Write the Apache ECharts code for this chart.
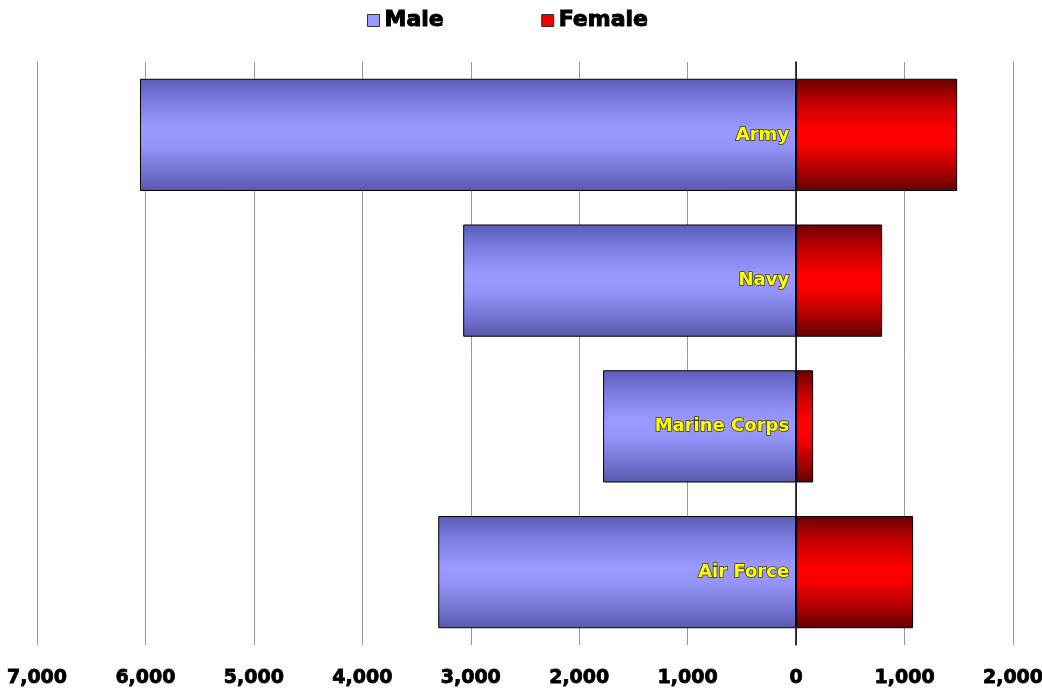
<!DOCTYPE html>
<html>
<head>
<meta charset="utf-8">
<script src="https://cdn.jsdelivr.net/npm/echarts@6/dist/echarts.min.js"></script>
<style>html,body{margin:0;padding:0;background:#fff}#c{width:1042px;height:694px}</style>
</head>
<body>
<div id="c"></div>
<script>
const categories = ['Army', 'Navy', 'Marine Corps', 'Air Force'];
const maleValues = [6050, 3070, 1780, 3300];
const femaleValues = [1485, 793, 157, 1079];
const tickMin = -7000, tickMax = 2000, tickStep = 1000;

const chart = echarts.init(document.getElementById('c'), null, {renderer: 'canvas'});
const fmt = v => Math.abs(v).toLocaleString('en-US');
const maleGrad = new echarts.graphic.LinearGradient(0, 0, 0, 1, [
  {offset: 0, color: '#5c5cb8'}, {offset: 0.2, color: '#7c7ce0'},
  {offset: 0.45, color: '#9999ff'}, {offset: 0.6, color: '#9494f8'},
  {offset: 0.85, color: '#7070d0'}, {offset: 1, color: '#5858a8'}]);
const femaleGrad = new echarts.graphic.LinearGradient(0, 0, 0, 1, [
  {offset: 0, color: '#6a0000'}, {offset: 0.2, color: '#c00000'},
  {offset: 0.45, color: '#ff0000'}, {offset: 0.6, color: '#f80000'},
  {offset: 0.85, color: '#a00000'}, {offset: 1, color: '#600000'}]);

chart.setOption({
  animation: false,
  legend: {
    left: 362, top: 4, itemWidth: 12, itemHeight: 12, itemGap: 97, icon: 'rect',
    textStyle: {fontFamily: 'DejaVu Sans', fontWeight: 'bold', fontSize: 22, color: '#000',
      textBorderColor: '#000', textBorderWidth: 1},
    data: [
      {name: 'Male', itemStyle: {color: '#9999ff', borderColor: '#333', borderWidth: 1}},
      {name: 'Female', itemStyle: {color: '#ee0000', borderColor: '#333', borderWidth: 1}}
    ]
  },
  grid: {left: 37, right: 29, top: 62, bottom: 49, containLabel: false, outerBoundsMode: 'none'},
  xAxis: {
    type: 'value', min: tickMin, max: tickMax, interval: tickStep,
    axisLine: {show: false}, axisTick: {show: false},
    splitLine: {show: true, lineStyle: {color: '#9a9a9a', width: 1}},
    axisLabel: {formatter: fmt, margin: 24, fontFamily: 'DejaVu Sans', fontWeight: 'bold', fontSize: 19, color: '#000',
      textBorderColor: '#000', textBorderWidth: 0.8}
  },
  yAxis: {
    type: 'category', data: categories, inverse: true,
    axisLabel: {show: false}, axisTick: {show: false},
    axisLine: {show: true, onZero: true, lineStyle: {color: '#000', width: 1.5}}
  },
  series: [
    {
      name: 'Male', type: 'bar', stack: 'total', barCategoryGap: '23%',
      data: maleValues.map(v => -v),
      itemStyle: {color: maleGrad, borderColor: '#000', borderWidth: 1},
      label: {
        show: true, position: 'insideRight', distance: 7, formatter: '{b}',
        fontFamily: 'DejaVu Sans', fontWeight: 'bold', fontSize: 18,
        color: '#ffff00', textBorderColor: '#3a3a00', textBorderWidth: 1.5
      },
      z: 2
    },
    {
      name: 'Female', type: 'bar', stack: 'total',
      data: femaleValues,
      itemStyle: {color: femaleGrad, borderColor: '#000', borderWidth: 1},
      z: 2
    }
  ]
});
</script>
</body>
</html>
